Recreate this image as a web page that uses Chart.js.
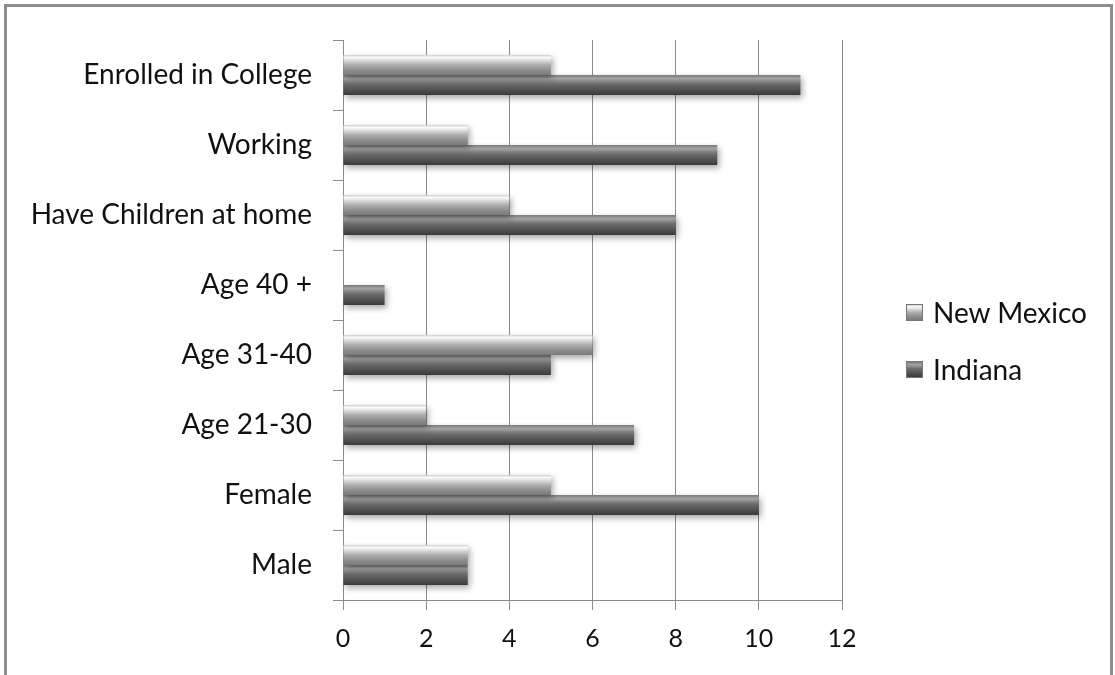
<!DOCTYPE html>
<html>
<head>
<meta charset="utf-8">
<script src="https://cdn.jsdelivr.net/npm/chart.js@4/dist/chart.umd.min.js"></script>
<style>
  html, body { margin: 0; padding: 0; background: #fff; }
  body { width: 1115px; height: 675px; position: relative; overflow: hidden; font-family: Lato, sans-serif; }
  #frame { position: absolute; left: 4px; top: 4px; width: 1103px; height: 700px; border: 3px solid #8e8e8e; }
  #wrap { position: absolute; left: 0; top: 0; width: 1115px; height: 675px; }
  #legend { position: absolute; left: 906px; top: 297px; }
  .item { display: flex; align-items: center; height: 30px; margin-bottom: 27px; font-size: 28px; color: #111; }
  .swatch { width: 17px; height: 17px; margin-right: 10px; box-sizing: border-box; border: 1px solid #777; }
</style>
</head>
<body>
<div id="frame"></div>
<div id="wrap"><canvas id="chart" width="1115" height="675"></canvas></div>
<div id="legend"></div>
<script>
// Survey respondents by group — New Mexico vs Indiana

const categories = ['Enrolled in College', 'Working', 'Have Children at home', 'Age 40 +',
                    'Age 31-40', 'Age 21-30', 'Female', 'Male'];
const newMexico = [5, 3, 4, 0, 6, 2, 5, 3];
const indiana = [11, 9, 8, 1, 5, 7, 10, 3];
const seriesNames = ['New Mexico', 'Indiana'];
const xMax = 12;
const xStep = 2;

// Glossy vertical shading for each series (top -> bottom)
const shades = [
    [[0, '#cfcfcf'], [0.12, '#fbfbfb'], [0.5, '#adadad'], [0.78, '#8c8c8c'], [1, '#7a7a7a']],
    [[0, '#7a7a7a'], [0.18, '#a4a4a4'], [0.45, '#6c6c6c'], [0.8, '#4c4c4c'], [1, '#3a3a3a']]
];

const barShade = {
    id: 'barShade',
    beforeDatasetsDraw(chart) {
        const ctx = chart.ctx;
        chart.data.datasets.forEach((ds, i) => {
            chart.getDatasetMeta(i).data.forEach(bar => {
                const top = bar.y - bar.height / 2;
                const g = ctx.createLinearGradient(0, top, 0, top + bar.height);
                shades[i].forEach(s => g.addColorStop(s[0], s[1]));
                bar.options.backgroundColor = g;
            });
        });
        ctx.save();
        ctx.shadowColor = 'rgba(0, 0, 0, 0.35)';
        ctx.shadowBlur = 6;
        ctx.shadowOffsetX = 2;
        ctx.shadowOffsetY = 3;
    },
    afterDatasetsDraw(chart) {
        chart.ctx.restore();
    }
};

const gridGray = '#8c8c8c';

new Chart(document.getElementById('chart'), {
    type: 'bar',
    data: {
        labels: categories,
        datasets: [
            { label: seriesNames[0], data: newMexico, backgroundColor: () => '#bbb', borderWidth: 0 },
            { label: seriesNames[1], data: indiana, backgroundColor: () => '#555', borderWidth: 0 }
        ]
    },
    options: {
        indexAxis: 'y',
        responsive: false,
        animation: false,
        categoryPercentage: 0.57,
        barPercentage: 1,
        layout: { padding: { left: 0, right: 273, top: 40, bottom: 0 } },
        plugins: { legend: { display: false }, tooltip: { enabled: false } },
        scales: {
            x: {
                min: 0, max: xMax,
                ticks: { stepSize: xStep, color: '#111', font: { family: 'Lato, sans-serif', size: 25 }, padding: 14 },
                grid: { color: gridGray, tickLength: 10, lineWidth: 1 },
                border: { color: gridGray },
                afterFit(scale) { scale.height = 75; }
            },
            y: {
                ticks: { color: '#111', font: { family: 'Lato, sans-serif', size: 28 }, padding: 21 },
                grid: { color: gridGray, drawOnChartArea: false, tickLength: 10, offset: true },
                border: { color: gridGray },
                afterFit(scale) { scale.width = 343; }
            }
        }
    },
    plugins: [barShade]
});

// Legend
const legend = document.getElementById('legend');
seriesNames.forEach((name, i) => {
    const stops = shades[i].map(s => s[1] + ' ' + (s[0] * 100) + '%').join(', ');
    legend.innerHTML += `<div class="item"><span class="swatch" style="background:linear-gradient(${stops})"></span>${name}</div>`;
});
</script>
</body>
</html>
